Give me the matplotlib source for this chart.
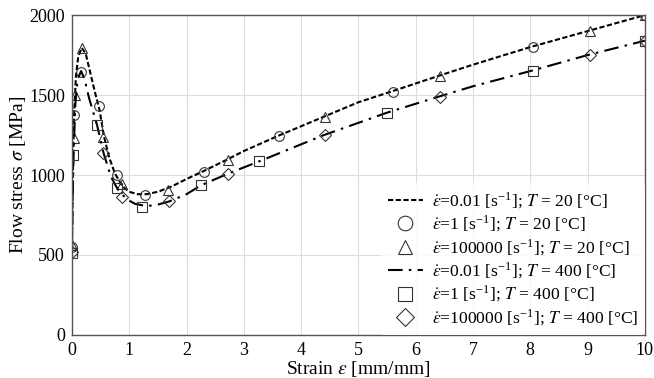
import matplotlib
matplotlib.use("Agg")
import matplotlib.pyplot as plt

plt.rcParams['font.family'] = ['Liberation Serif', 'DejaVu Serif']
plt.rcParams['mathtext.fontset'] = 'stix'

# --- data (strain [mm/mm], stress [MPa]) ---
# continuous curves
line20_x = [0.0, 0.005, 0.01, 0.02, 0.04, 0.07, 0.11, 0.17, 0.24, 0.32, 0.40, 0.48, 0.56,
            0.65, 0.75, 0.88, 1.0, 1.15, 1.3, 1.5, 1.75, 2.0, 2.3, 2.7, 3.0, 3.6, 4.4,
            5.0, 5.6, 6.4, 7.0, 8.0, 9.0, 10.0]
line20_y = [500, 650, 800, 1100, 1400, 1620, 1740, 1795, 1760, 1640, 1520, 1410, 1240,
            1110, 1010, 930, 895, 880, 880, 895, 930, 975, 1025, 1095, 1150, 1245, 1365,
            1455, 1525, 1620, 1690, 1800, 1900, 2000]
line400_x = [0.0, 0.005, 0.01, 0.03, 0.06, 0.10, 0.16, 0.22, 0.30, 0.44, 0.55, 0.68, 0.80,
             0.95, 1.1, 1.3, 1.5, 1.7, 2.0, 2.25, 2.7, 3.3, 4.4, 5.5, 6.4, 7.0, 8.0, 9.0, 10.0]
line400_y = [500, 650, 800, 1150, 1450, 1600, 1650, 1600, 1480, 1310, 1140, 990, 910,
             850, 820, 805, 815, 835, 880, 935, 1005, 1090, 1250, 1390, 1490, 1555, 1650,
             1750, 1840]

# markers
circ_x = [0.0, 0.04, 0.16, 0.47, 0.79, 1.28, 2.3, 3.61, 5.6, 8.04, 10.0]
circ_y = [550, 1375, 1645, 1430, 1000, 875, 1020, 1245, 1520, 1800, 2000]
tri_x = [0.0, 0.03, 0.05, 0.18, 0.55, 0.88, 1.68, 2.72, 4.42, 6.42, 9.05, 10.0]
tri_y = [560, 1230, 1500, 1795, 1235, 945, 905, 1095, 1365, 1620, 1900, 2000]
sq_x = [0.0, 0.02, 0.44, 0.79, 1.23, 2.25, 3.26, 5.5, 8.04, 10.0]
sq_y = [512, 1125, 1310, 920, 800, 935, 1090, 1390, 1650, 1840]
dia_x = [0.0, 0.55, 0.88, 1.7, 2.72, 4.42, 6.42, 9.05, 10.0]
dia_y = [520, 1140, 865, 835, 1005, 1250, 1490, 1750, 1840]

labels = [
    r'$\dot{\varepsilon}$=0.01 [s$^{\mathregular{-1}}$]; $T$ = 20 [°C]',
    r'$\dot{\varepsilon}$=1 [s$^{\mathregular{-1}}$]; $T$ = 20 [°C]',
    r'$\dot{\varepsilon}$=100000 [s$^{\mathregular{-1}}$]; $T$ = 20 [°C]',
    r'$\dot{\varepsilon}$=0.01 [s$^{\mathregular{-1}}$]; $T$ = 400 [°C]',
    r'$\dot{\varepsilon}$=1 [s$^{\mathregular{-1}}$]; $T$ = 400 [°C]',
    r'$\dot{\varepsilon}$=100000 [s$^{\mathregular{-1}}$]; $T$ = 400 [°C]',
]

fig = plt.figure(figsize=(6.54, 3.78), dpi=100)
ax = fig.add_axes([0.110, 0.114, 0.876, 0.846])

mk = dict(linestyle='none', markerfacecolor='none', markeredgecolor='#333333',
          markeredgewidth=0.8, markersize=7)

h1, = ax.plot(line20_x, line20_y, color='black', lw=1.5, dashes=(2.5, 1.2), label=labels[0])
h2, = ax.plot(circ_x, circ_y, marker='o', label=labels[1], **mk)
h3, = ax.plot(tri_x, tri_y, marker='^', label=labels[2], **mk)
h4, = ax.plot(line400_x, line400_y, color='black', lw=1.5, dashes=(7, 3, 1.2, 3), label=labels[3])
h5, = ax.plot(sq_x, sq_y, marker='s', label=labels[4], **mk)
h6, = ax.plot(dia_x, dia_y, marker='D', label=labels[5], **dict(mk, markersize=6))

ax.set_xlim(0, 10)
ax.set_ylim(0, 2000)
ax.set_xticks(range(0, 11))
ax.set_yticks([0, 500, 1000, 1500, 2000])
ax.tick_params(length=0, labelsize=13, pad=5)
ax.grid(True, color='#dddddd', linewidth=0.8)
ax.set_axisbelow(True)
for s in ax.spines.values():
    s.set_color('#555555')
    s.set_linewidth(1.0)

ax.set_xlabel(r'Strain $\varepsilon$ [mm/mm]', fontsize=14, labelpad=0)
ax.set_ylabel(r'Flow stress $\sigma$ [MPa]', fontsize=14, labelpad=1)

ax.legend(handles=[h1, h2, h3, h4, h5, h6], loc='lower right', fontsize=12.6,
          frameon=True, framealpha=0.85, edgecolor='none', facecolor='white',
          handlelength=2.0, markerscale=1.5, labelspacing=0.17,
          borderaxespad=0.0, handletextpad=0.5)

fig.savefig('out.png', dpi=100)
